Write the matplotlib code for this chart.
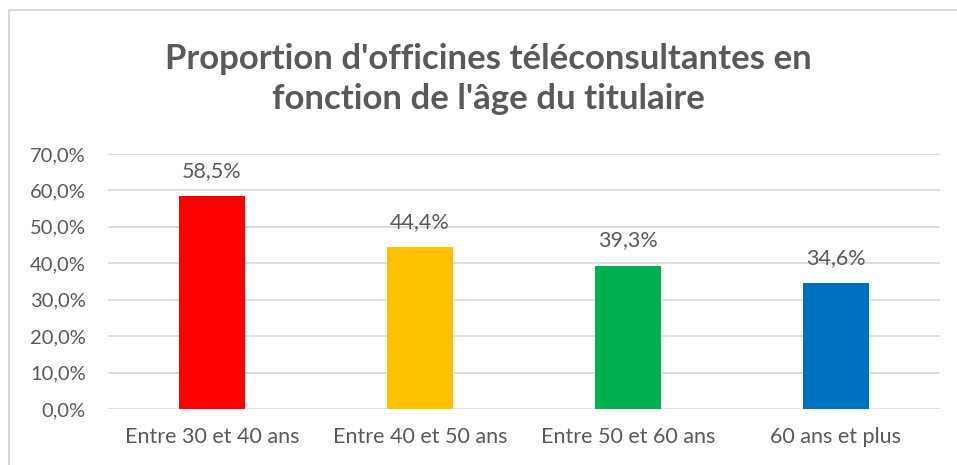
import matplotlib
matplotlib.use("Agg")
import matplotlib.pyplot as plt
from matplotlib.patches import Rectangle

categories = ["Entre 30 et 40 ans", "Entre 40 et 50 ans", "Entre 50 et 60 ans", "60 ans et plus"]
values = [58.5, 44.4, 39.3, 34.6]
colors = ["#FF0000", "#FFC000", "#00B050", "#0070C0"]
yticks = [0, 10, 20, 30, 40, 50, 60, 70]
title = "Proportion d'officines téléconsultantes en\nfonction de l'âge du titulaire"

W, H = 957, 465
fig = plt.figure(figsize=(W / 100, H / 100), dpi=100)
fig.patch.set_facecolor("white")
plt.rcParams["font.family"] = ["Lato", "DejaVu Sans"]
txt = "#595959"

# chart frame
fig.patches.append(Rectangle((8.5 / W, -0.1), 1.2, (H - 10) / H + 0.1, transform=fig.transFigure,
                             fill=False, edgecolor="#D9D9D9", linewidth=1.5))

ax = fig.add_axes([108 / W, (H - 409) / H, 832 / W, 255 / H])
x = list(range(len(categories)))
ax.bar(x, values, width=0.32, color=colors, zorder=3)
ax.set_xlim(-0.5, len(categories) - 0.5)
ax.set_ylim(0, 70)
ax.set_yticks(yticks)
ax.set_yticklabels([f"{v:.1f}%".replace(".", ",") for v in yticks])
ax.set_xticks(x)
ax.set_xticklabels(categories)
ax.tick_params(axis="both", length=0, colors=txt)
ax.tick_params(axis="y", pad=16, labelsize=14.5)
ax.tick_params(axis="x", pad=13, labelsize=15.5)
ax.grid(axis="y", color="#D9D9D9", linewidth=1.2, zorder=0)
for s in ax.spines.values():
    s.set_visible(False)

for xi, v in zip(x, values):
    ax.annotate(f"{v:.1f}%".replace(".", ","), (xi, v), xytext=(0, 11), textcoords="offset points",
                ha="center", va="bottom", fontsize=15.5, color=txt)

fig.text(488 / W, 1 - 79 / H, title, ha="center", va="center", fontsize=25,
         fontweight="bold", color=txt, linespacing=1.32)

fig.savefig("out.png", dpi=100, facecolor="white")
